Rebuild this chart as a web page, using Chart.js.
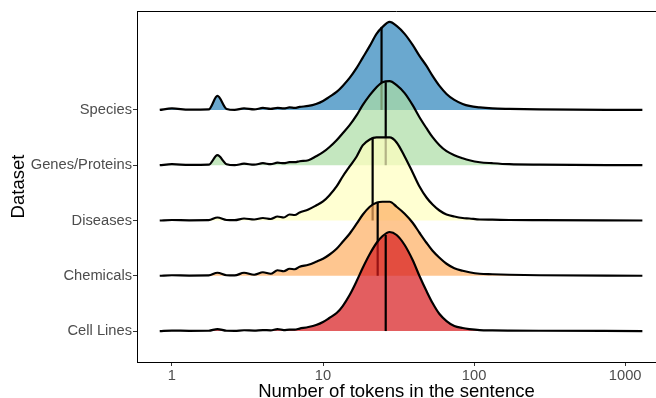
<!DOCTYPE html>
<html lang="en">
<head>
    <meta charset="UTF-8">
    <title>Tokens per sentence</title>
    <script src="https://cdn.jsdelivr.net/npm/chart.js"></script>
    <style>
        body { margin: 0; background: #fff; }
        #wrap { width: 656px; height: 398px; }
    </style>
</head>
<body>

<div id="wrap"><canvas id="ridges" width="656" height="398"></canvas></div>

<script type='text/javascript'>

    // datasets, from bottom row to top row
    const datasets = ["Cell Lines", "Chemicals", "Diseases", "Genes/Proteins", "Species"];

    // x positions (number of tokens) where the density was read
    const tokens = [0.83, 1, 1.3, 1.75, 2, 2.3, 2.6,
        3, 3.5, 4, 4.5, 5, 5.5, 6, 6.5, 7,
        8, 9, 10, 11, 12.3, 13.5, 15, 16.7, 18.3, 20.4,
        22.6, 24.8, 27.6, 30.7, 34.7, 39.2, 43.5, 48.4, 53.1, 59,
        65.7, 74, 84, 93, 109, 132, 171, 270, 1300];

    // ridge heights
    const cellLines = [0, 0.5, 0.2, 0.3, 2, 0.3, 0.2,
        0.8, 0.5, 1, 0.7, 2, 1, 1.5, 1.5, 2.5,
        4, 6, 9, 13, 18, 25, 36, 50, 63, 77,
        88, 95, 99, 96, 86, 71, 55, 40, 28, 17,
        10, 5, 3, 2, 1, 0.7, 0.5, 0.3, 0];
    const chemicals = [0, 0.5, 0.2, 0.3, 3, 0.5, 0.3,
        3, 1, 3.5, 2, 5.5, 4.5, 7, 6.5, 9,
        11, 14, 17, 21, 27, 34, 42, 52, 61, 69,
        73, 74, 74, 69, 62, 53, 43, 33, 25, 18,
        12, 7.5, 5, 3.5, 2, 1.5, 1, 0.5, 0];
    const diseases = [0, 0.5, 0.2, 0.3, 3, 0.5, 0.3,
        2, 1, 2.5, 1.5, 4, 3, 6, 5.5, 8,
        11, 15, 19, 25, 34, 44, 54, 64, 75, 81,
        83, 83, 83, 78, 64, 48, 34, 23, 16, 10,
        6, 4, 2.5, 2, 1, 0.8, 0.5, 0.3, 0];
    const genes = [0, 1, 0.3, 0.5, 10, 1, 0,
        1.5, 0.5, 2, 1, 2.5, 2, 3, 3, 4,
        5, 9, 13, 18, 25, 32, 40, 50, 60, 70,
        78, 83, 84, 80, 72, 60, 48, 37, 28, 20,
        14, 10, 7, 5, 3, 2, 1, 0.5, 0];
    const species = [0, 1.5, 0.3, 0.5, 14, 1, 0,
        1.5, 0.5, 2, 1, 2, 1.5, 2.5, 2, 3,
        4, 6, 9, 13, 18, 24, 32, 42, 52, 64,
        76, 83, 88, 84, 76, 65, 54, 44, 34, 24,
        16, 10, 6, 4, 2.5, 1.5, 1, 0.5, 0];

    // median lines: position and height where they meet the ridge
    const medians = [26, 23, 21.3, 26, 24.4];
    const medianTops = [96, 74, 83, 83, 83];

    const ridgeScale = 1 / 55.25;   // heights above are in px of one row = 55.25
    const colors = ["#D7191C", "#FDAE61", "#FFFFBF", "#ABDDA4", "#2B83BA"];
    const alpha = 0.7;

    function withAlpha(hex, a) {
        var r = parseInt(hex.substr(1, 2), 16);
        var g = parseInt(hex.substr(3, 2), 16);
        var b = parseInt(hex.substr(5, 2), 16);
        return "rgba(" + r + "," + g + "," + b + "," + a + ")";
    }

    const heights = [cellLines, chemicals, diseases, genes, species];
    var chartDatasets = [];
    heights.forEach(function (h, i) {
        var base = i + 1;
        // bottom rows must be drawn over the top rows -> lower order
        chartDatasets.push({
            label: datasets[i],
            data: tokens.map(function (t, k) { return { x: t, y: base + h[k] * ridgeScale }; }),
            borderColor: "#000",
            borderWidth: 2.2,
            backgroundColor: withAlpha(colors[i], alpha),
            fill: { value: base },
            pointRadius: 0,
            cubicInterpolationMode: "monotone",
            order: 2 * i + 2
        });
        chartDatasets.push({
            label: datasets[i] + " median",
            data: [{ x: medians[i], y: base }, { x: medians[i], y: base + medianTops[i] * ridgeScale }],
            borderColor: "#000",
            borderWidth: 2.2,
            fill: false,
            pointRadius: 0,
            order: 2 * i + 1
        });
    });

    // top frame line (left and bottom come from the axes)
    const frame = {
        id: "frame",
        afterDraw: function (chart) {
            var a = chart.chartArea;
            var ctx = chart.ctx;
            ctx.save();
            ctx.strokeStyle = "#000";
            ctx.lineWidth = 1;
            ctx.beginPath();
            ctx.moveTo(a.left, a.top + 0.5);
            ctx.lineTo(a.right, a.top + 0.5);
            ctx.stroke();
            ctx.restore();
        }
    };

    Chart.defaults.font.family = "'Liberation Sans', Arial, sans-serif";

    new Chart(document.getElementById("ridges"), {
        type: "line",
        data: { datasets: chartDatasets },
        plugins: [frame],
        options: {
            responsive: false,
            animation: false,
            layout: { padding: { top: 11, right: 0, left: 0, bottom: 0 } },
            plugins: { legend: { display: false }, tooltip: { enabled: false } },
            scales: {
                x: {
                    type: "logarithmic",
                    min: 0.587,
                    max: 1600,
                    afterBuildTicks: function (scale) {
                        scale.ticks = [1, 10, 100, 1000].map(function (v) { return { value: v }; });
                    },
                    afterFit: function (scale) { scale.height = 36; },
                    ticks: {
                        color: "#4D4D4D",
                        font: { size: 14.7 },
                        padding: 1,
                        autoSkip: false,
                        maxRotation: 0,
                        callback: function (v) { return String(v); }
                    },
                    grid: { drawOnChartArea: false, tickLength: 4, color: "#333" },
                    border: { display: true, color: "#000", width: 1 },
                    title: {
                        display: true,
                        text: "Number of tokens in the sentence",
                        color: "#000",
                        font: { size: 18.5, lineHeight: 1 },
                        padding: { top: 0, bottom: -3 }
                    }
                },
                y: {
                    type: "linear",
                    min: 0.44,
                    max: 6.79,
                    afterBuildTicks: function (scale) {
                        scale.ticks = [1, 2, 3, 4, 5].map(function (v) { return { value: v }; });
                    },
                    afterFit: function (scale) { scale.width = 137; },
                    ticks: {
                        color: "#4D4D4D",
                        font: { size: 14.7 },
                        padding: 1,
                        callback: function (v) { return datasets[v - 1]; }
                    },
                    grid: { drawOnChartArea: false, tickLength: 4, color: "#333" },
                    border: { display: true, color: "#000", width: 1 },
                    title: {
                        display: true,
                        text: "Dataset",
                        color: "#000",
                        font: { size: 18.5, lineHeight: 1 },
                        padding: { top: 10, bottom: 0 }
                    }
                }
            }
        }
    });

</script>
</body>
</html>
